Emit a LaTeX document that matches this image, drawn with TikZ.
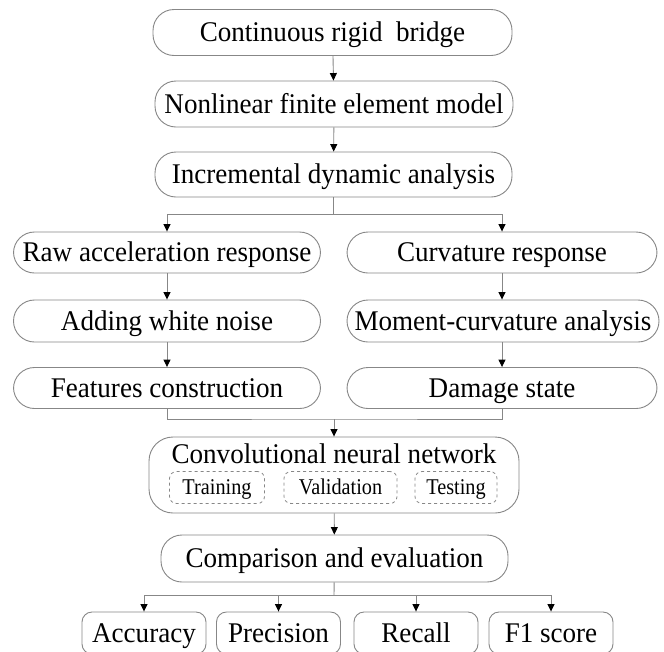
\documentclass[tikz,border=0pt]{standalone}
\usepackage{fontspec}
\setmainfont{Liberation Serif}
\newfontfamily\bigf[FakeStretch=0.95]{Liberation Serif}
\newfontfamily\smallf[FakeStretch=0.9]{Liberation Serif}
\usetikzlibrary{arrows.meta}
\definecolor{lg}{RGB}{135,135,135}
\begin{document}
\begin{tikzpicture}[x=1pt,y=-1pt,
  txt/.style={font=\bigf\fontsize{28.5}{32}\selectfont,text=black,text height=18.8pt,text depth=0pt},
  box/.style={txt,draw=lg,line width=0.9pt,rounded corners=21pt,inner sep=0pt},
  sbox/.style={txt,draw=lg,line width=0.9pt,rounded corners=10pt,inner sep=0pt,
    minimum width=124pt,minimum height=42pt},
  dbox/.style={draw=lg,dashed,line width=0.8pt,rounded corners=7pt,inner sep=0pt,
    font=\smallf\fontsize{22.5}{26}\selectfont,text=black,text height=14.8pt,text depth=0pt,minimum height=32pt},
  ln/.style={draw=lg,line width=0.9pt},
  arr/.style={ln,-{Triangle[length=7.5pt,width=7pt,color=black]}}]
\useasboundingbox (0,0) rectangle (664,651);
\fill[white] (0,0) rectangle (664,651);

\node[box,minimum width=359pt,minimum height=46pt] (b1) at (332.5,32.5) {Continuous rigid~ bridge};
\node[box,minimum width=358pt,minimum height=46pt] (b2) at (334,104) {Nonlinear finite element model};
\node[box,minimum width=357pt,minimum height=45pt] (b3) at (333.5,174.5) {Incremental dynamic analysis};

\node[box,minimum width=307pt,minimum height=41pt] (r1) at (167,252.5) {Raw acceleration response};
\node[box,minimum width=310pt,minimum height=41pt] (c1) at (502,252.5) {Curvature response};
\node[box,minimum width=307pt,minimum height=42pt] (r2) at (167,321) {Adding white noise};
\node[box,minimum width=312pt,minimum height=42pt] (c2) at (503,321) {Moment-curvature analysis};
\node[box,minimum width=307pt,minimum height=41pt] (r3) at (167,388) {Features construction};
\node[box,minimum width=310pt,minimum height=41pt] (c3) at (502,388) {Damage state};

\node[draw=lg,line width=0.9pt,rounded corners=24pt,minimum width=370pt,minimum height=76pt] (cnn) at (334,475) {};
\node[txt,inner sep=0pt] (cnnt) at (334,454) {Convolutional neural network};
\node[dbox,minimum width=95pt] (tr) at (217,487.5) {Training};
\node[dbox,minimum width=113pt] (va) at (340.5,487.5) {Validation};
\node[dbox,minimum width=82pt] (te) at (456,487.5) {Testing};

\node[box,minimum width=347pt,minimum height=47pt] (cmp) at (334.5,558.5) {Comparison and evaluation};

\node[sbox] (ac) at (144,633) {Accuracy};
\node[sbox] (pr) at (278.5,633) {Precision};
\node[sbox] (rc) at (416,633) {Recall};
\node[sbox] (f1) at (551,633) {F1 score};

\coordinate (s1) at (333.5,214);
\coordinate (m1) at (334,419);
\coordinate (s2) at (334,595);

\draw[arr] (b1) -- (b2);
\draw[arr] (b2) -- (b3);
\draw[ln] (b3) -- (s1);
\draw[arr] (s1) -| (r1.north);
\draw[arr] (s1) -| (c1.north);
\draw[arr] (r1) -- (r2);
\draw[arr] (r2) -- (r3);
\draw[arr] (c1) -- (c1|-c2.north);
\draw[arr] (c2.south-|c3) -- (c3);
\draw[ln] (r3.south) |- (m1) -| (c3.south);
\draw[arr] (m1) -- (cnn.north);
\draw[arr] (cnn) -- (cmp);
\draw[ln] (cmp) -- (s2);
\draw[arr] (s2) -| (ac.north);
\draw[arr] (s2) -| (pr.north);
\draw[arr] (s2) -| (rc.north);
\draw[arr] (s2) -| (f1.north);
\end{tikzpicture}
\end{document}
